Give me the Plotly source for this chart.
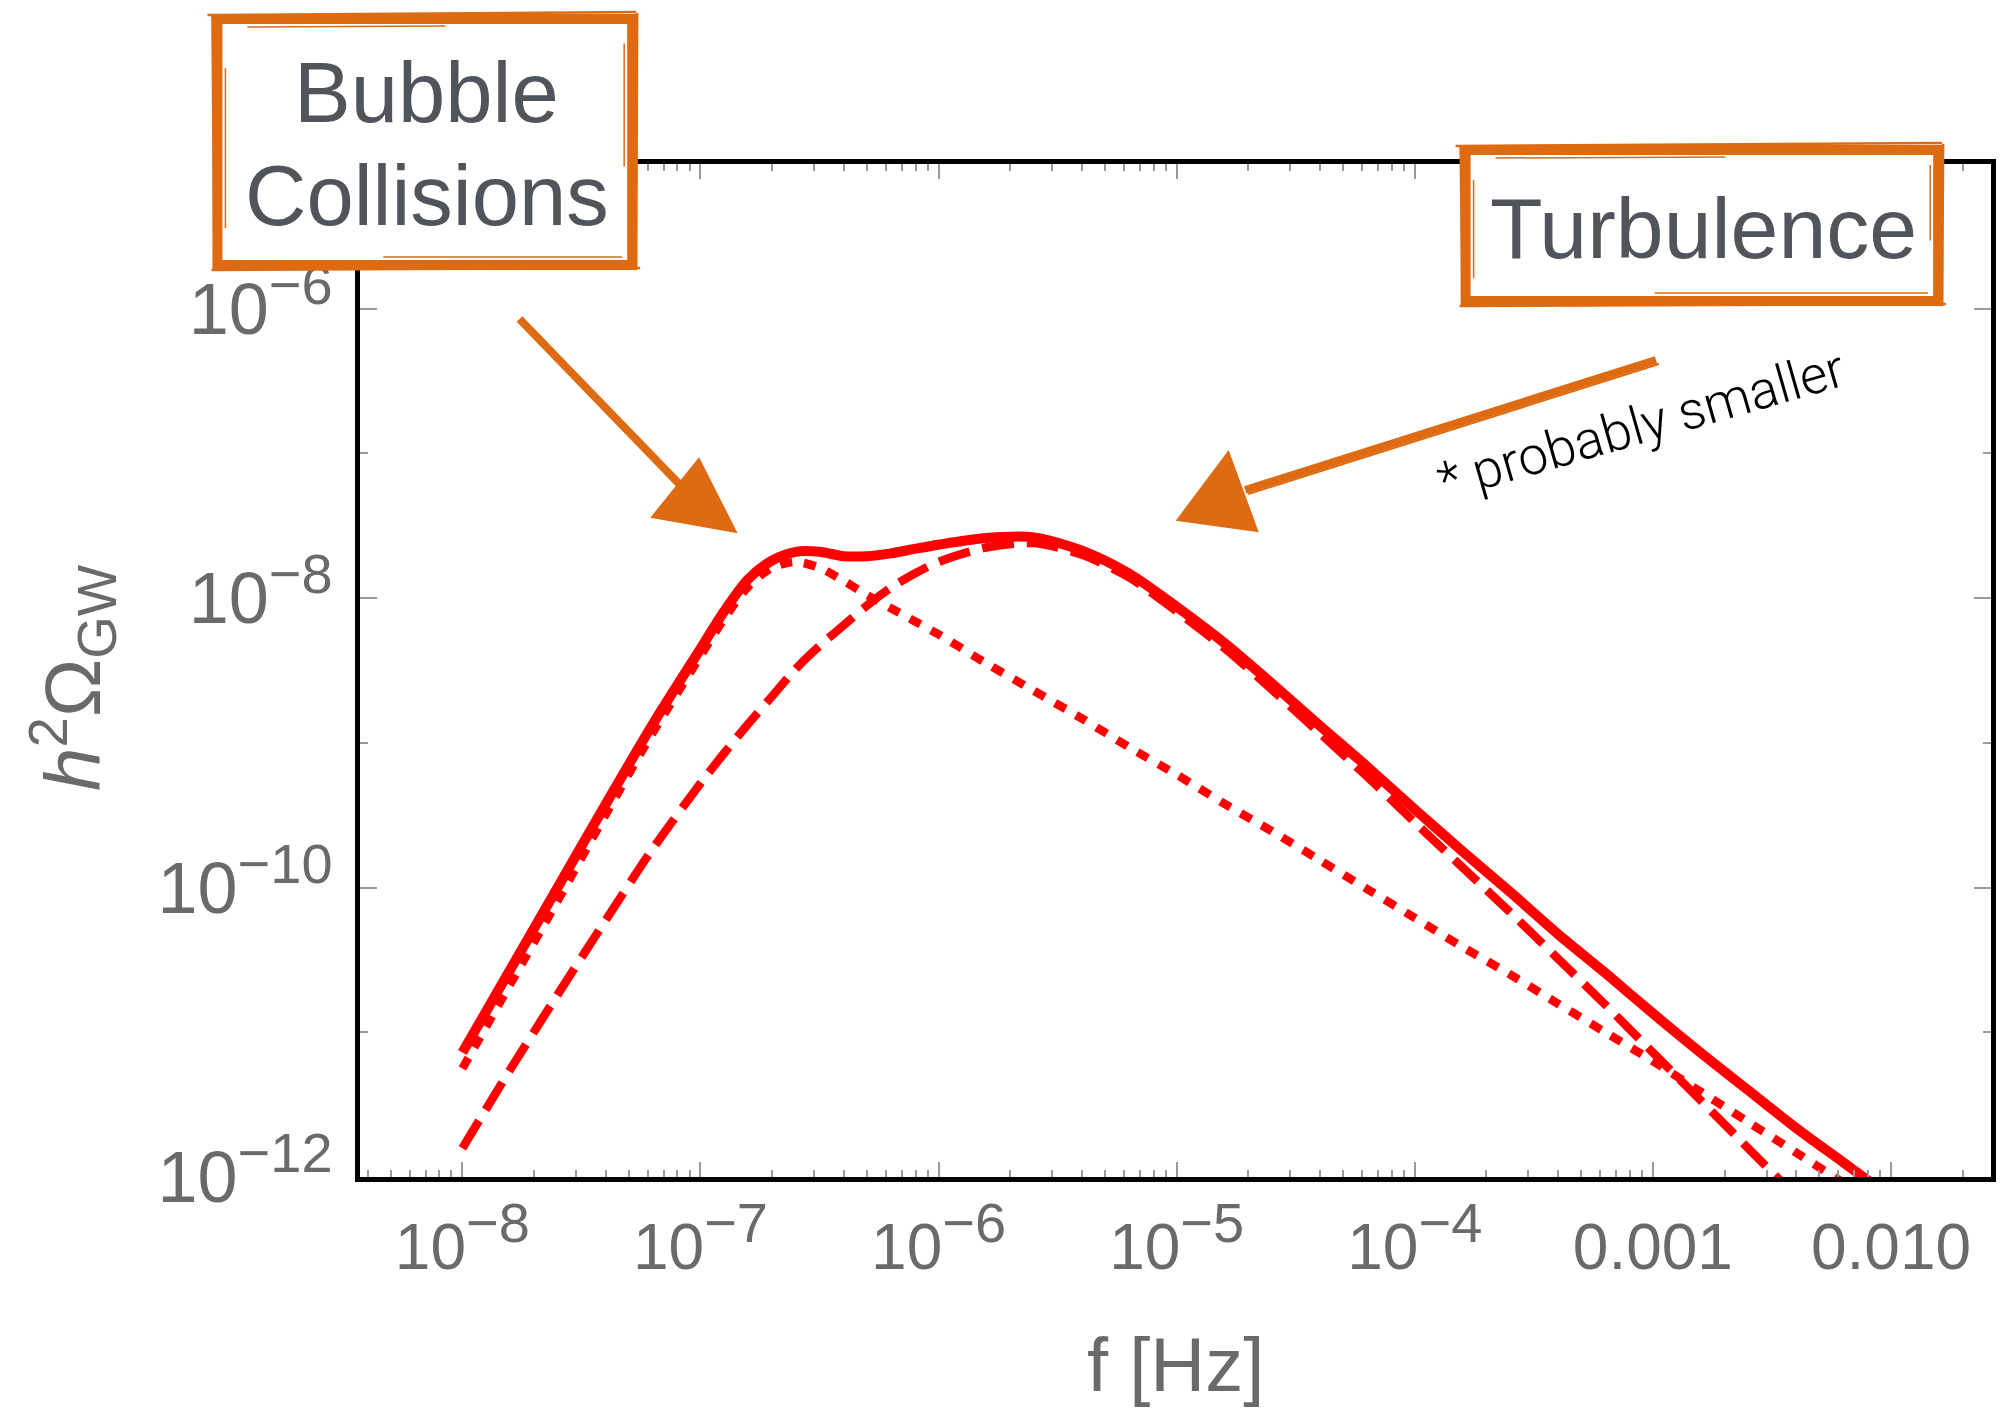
import plotly.graph_objects as go

# ---------------- data ----------------
freq_hz = [1.000e-8, 1.585e-8, 2.512e-8, 3.981e-8, 6.310e-8, 1.000e-7, 1.259e-7, 1.585e-7,
           1.995e-7, 2.512e-7, 3.162e-7, 3.981e-7, 5.012e-7, 6.310e-7, 7.943e-7, 1.000e-6,
           1.585e-6, 2.512e-6, 3.981e-6, 6.310e-6, 1.000e-5, 1.585e-5, 2.512e-5, 3.981e-5,
           6.310e-5, 1.000e-4, 1.585e-4, 2.512e-4, 3.981e-4, 6.310e-4, 1.000e-3, 1.585e-3,
           2.512e-3, 3.981e-3, 6.310e-3, 1.000e-2]

omega_total = [7.24e-12, 2.69e-11, 1.00e-10, 3.72e-10, 1.35e-9, 4.47e-9, 8.13e-9, 1.35e-8,
               1.82e-8, 2.09e-8, 2.09e-8, 1.95e-8, 1.95e-8, 2.04e-8, 2.19e-8, 2.34e-8,
               2.60e-8, 2.63e-8, 2.14e-8, 1.48e-8, 8.71e-9, 4.90e-9, 2.57e-9, 1.32e-9,
               6.85e-10, 3.47e-10, 1.78e-10, 9.33e-11, 4.79e-11, 2.57e-11, 1.35e-11, 7.24e-12,
               3.98e-12, 2.19e-12, 1.26e-12, 7.24e-13]

omega_bubble = [5.62e-12, 2.14e-11, 8.13e-11, 3.16e-10, 1.18e-9, 3.98e-9, 7.24e-9, 1.20e-8,
                1.62e-8, 1.78e-8, 1.62e-8, 1.32e-8, 1.05e-8, 8.51e-9, 6.92e-9, 5.62e-9,
                3.55e-9, 2.29e-9, 1.48e-9, 9.33e-10, 6.03e-10, 3.80e-10, 2.45e-10, 1.55e-10,
                9.77e-11, 6.17e-11, 3.89e-11, 2.51e-11, 1.58e-11, 1.00e-11, 6.31e-12, 3.89e-12,
                2.40e-12, 1.48e-12, 9.12e-13, 5.62e-13]

omega_turb = [1.58e-12, 5.50e-12, 1.82e-11, 5.89e-11, 1.86e-10, 5.25e-10, 8.51e-10, 1.35e-9,
              2.09e-9, 3.24e-9, 4.68e-9, 6.46e-9, 8.91e-9, 1.18e-8, 1.48e-8, 1.78e-8,
              2.24e-8, 2.40e-8, 2.00e-8, 1.39e-8, 8.11e-9, 4.52e-9, 2.33e-9, 1.17e-9,
              5.85e-10, 2.82e-10, 1.38e-10, 6.76e-11, 3.24e-11, 1.55e-11, 7.24e-12, 3.39e-12,
              1.58e-12, 7.41e-13, 3.47e-13, 1.62e-13]

x_tickvals = [1e-8, 1e-7, 1e-6, 1e-5, 1e-4, 1e-3, 1e-2]
x_exponents = ["\u22128", "\u22127", "\u22126", "\u22125", "\u22124"]
x_plain = ["0.001", "0.010"]
y_tickvals = [1e-12, 1e-10, 1e-8, 1e-6]
y_exponents = ["\u221212", "\u221210", "\u22128", "\u22126"]
x_minor = [m * 10.0 ** e for e in range(-9, -1) for m in range(2, 10)]
y_minor = [1e-11, 1e-9, 1e-7]

# ---------------- styling ----------------
RED = "#FF0000"
ORANGE = "#DE6A12"
GRAY = "#6a6a6a"
BOXTEXT = "#50555B"
FONT = "Liberation Sans, Arial, Helvetica, sans-serif"

W, H = 2003, 1410
L, R, T, B = 360, 1996, 164, 1177  # plot-area pixel box


def P(x, y):
    """pixel -> paper coordinates"""
    return (x - L) / (R - L), (B - y) / (B - T)


def pow_label(exp, sup_px):
    return "10<sup><span style='font-size:%dpx'>%s</span></sup>" % (sup_px, exp)


x_ticktext = [pow_label(e, 56) for e in x_exponents] + x_plain
y_ticktext = [pow_label(e, 56) for e in y_exponents]

fig = go.Figure()
fig.add_trace(go.Scatter(x=freq_hz, y=omega_bubble, mode="lines",
                         line=dict(color=RED, width=8.5, dash="12px,12px", shape="spline", smoothing=0.8),
                         hoverinfo="skip"))
fig.add_trace(go.Scatter(x=freq_hz, y=omega_turb, mode="lines",
                         line=dict(color=RED, width=8.5, dash="32px,13px", shape="spline", smoothing=0.8),
                         hoverinfo="skip"))
fig.add_trace(go.Scatter(x=freq_hz, y=omega_total, mode="lines",
                         line=dict(color=RED, width=10, shape="spline", smoothing=0.8),
                         hoverinfo="skip"))

axis_common = dict(showline=True, linecolor="black", linewidth=5, mirror="allticks",
                   ticks="inside", tickcolor="#9a9a9a", tickwidth=2, showgrid=False,
                   zeroline=False)

fig.update_xaxes(type="log", range=[-8.43, -1.58], tickmode="array",
                 tickvals=x_tickvals, ticktext=x_ticktext, ticklen=15,
                 tickfont=dict(family=FONT, size=64, color=GRAY), ticklabelstandoff=10,
                 minor=dict(tickmode="array", tickvals=x_minor, ticks="inside", ticklen=7,
                            tickcolor="#9a9a9a", tickwidth=2, showgrid=False),
                 **axis_common)
fig.update_yaxes(type="log", range=[-12, -5], tickmode="array",
                 tickvals=y_tickvals, ticktext=y_ticktext, ticklen=17,
                 tickfont=dict(family=FONT, size=72, color=GRAY), ticklabelstandoff=8,
                 minor=dict(tickmode="array", tickvals=y_minor, ticks="inside", ticklen=8,
                            tickcolor="#9a9a9a", tickwidth=2, showgrid=False),
                 **axis_common)

shapes = []
annotations = []


def sketch_box(x0, y0, x1, y1):
    a0, b0 = P(x0, y0)
    a1, b1 = P(x1, y1)
    shapes.append(dict(type="rect", xref="paper", yref="paper", x0=a0, y0=b0, x1=a1, y1=b1,
                       fillcolor="white", line=dict(width=0), layer="above"))
    shapes.append(dict(type="rect", xref="paper", yref="paper", x0=a0, y0=b0, x1=a1, y1=b1,
                       fillcolor="rgba(0,0,0,0)", line=dict(color=ORANGE, width=10), layer="above"))
    # thin partial "pencil" strokes for a hand-drawn feel
    w = x1 - x0
    h = y1 - y0
    strokes = [
        ((x0 - 10, y0 - 4), (x1 + 4, y0 - 7), 2.5),
        ((x0 + 30, y0 + 8), (x0 + 0.55 * w, y0 + 7), 1.5),
        ((x0 - 6, y1 + 5), (x1 + 8, y1 + 3), 2.5),
        ((x0 + 0.4 * w, y1 - 8), (x1 - 10, y1 - 8), 1.5),
        ((x0 - 5, y0 - 3), (x0 - 3, y1 + 6), 2.5),
        ((x0 + 8, y0 + 0.2 * h), (x0 + 8, y1 - 0.15 * h), 1.5),
        ((x1 + 5, y0 - 6), (x1 + 4, y1 + 4), 2.5),
        ((x1 - 8, y0 + 0.1 * h), (x1 - 8, y0 + 0.6 * h), 1.5),
    ]
    for (p, q, lw) in strokes:
        pa, pb = P(*p)
        qa, qb = P(*q)
        shapes.append(dict(type="line", xref="paper", yref="paper", x0=pa, y0=pb, x1=qa, y1=qb,
                           line=dict(color=ORANGE, width=lw), layer="above"))


def sketch_arrow(start, shaft_end, head):
    sa, sb = P(*start)
    ea, eb = P(*shaft_end)
    shapes.append(dict(type="line", xref="paper", yref="paper", x0=sa, y0=sb, x1=ea, y1=eb,
                       line=dict(color=ORANGE, width=8), layer="above"))
    sa2, sb2 = P(start[0] + 3, start[1] + 4)
    ea2, eb2 = P(shaft_end[0] + 3, shaft_end[1] + 4)
    shapes.append(dict(type="line", xref="paper", yref="paper", x0=sa2, y0=sb2, x1=ea2, y1=eb2,
                       line=dict(color=ORANGE, width=2), layer="above"))
    pts = [P(*h) for h in head]
    path = "M {} {} L {} {} L {} {} Z".format(pts[0][0], pts[0][1], pts[1][0], pts[1][1],
                                              pts[2][0], pts[2][1])
    shapes.append(dict(type="path", xref="paper", yref="paper", path=path,
                       fillcolor=ORANGE, line=dict(color=ORANGE, width=2), layer="above"))


def text_at(x, y, txt, size, color, angle=0, family=FONT, weight=None):
    a, b = P(x, y)
    f = dict(family=family, size=size, color=color)
    if weight:
        f["weight"] = weight
    annotations.append(dict(x=a, y=b, xref="paper", yref="paper", text=txt, showarrow=False,
                            xanchor="center", yanchor="middle", textangle=angle, font=f))


sketch_box(217, 19, 633, 265)
sketch_box(1469, 150, 1943, 301)
sketch_arrow((520, 319), (688, 492), [(700, 459), (653, 517), (737, 532)])
sketch_arrow((1660, 360), (1248, 490), [(1231, 452), (1180, 520), (1260, 531)])

text_at(427, 93, "Bubble", 85, BOXTEXT)
text_at(427, 195, "Collisions", 85, BOXTEXT)
text_at(1708, 228, "Turbulence", 86, BOXTEXT)
text_at(1645, 425, "* probably smaller", 53, "black", angle=-16,
        family="Roboto, Liberation Sans, Arial, sans-serif", weight=300)
text_at(72, 677, "<i>h</i><sup>2</sup>\u03a9<sub>GW</sub>", 78, GRAY, angle=-90)
text_at(1178, 1364, "f [Hz]", 76, GRAY)

fig.update_layout(width=W, height=H, margin=dict(l=L, r=W - R, t=T, b=H - B),
                  paper_bgcolor="white", plot_bgcolor="white", showlegend=False,
                  shapes=shapes, annotations=annotations)

fig.write_html("out.html", config={"displayModeBar": False},
               post_script="document.body.style.margin='0';document.body.style.padding='0';")
